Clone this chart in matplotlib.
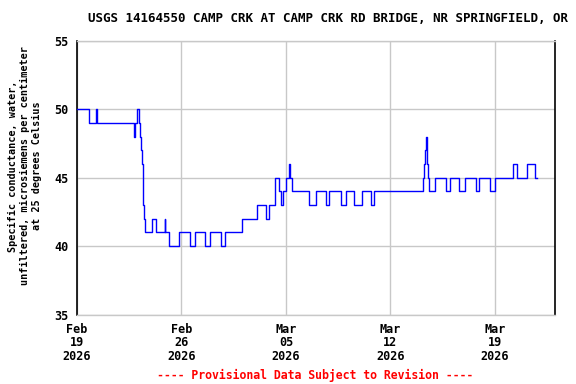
import matplotlib
matplotlib.use("Agg")
import matplotlib.pyplot as plt
import numpy as np
import pandas as pd

# Step data: offsets (days from 2026-02-19 00:00) where value changes, and the value
day_offsets = [0.00, 0.79, 1.26, 1.33, 3.80, 3.88, 4.00, 4.14, 4.22, 4.30, 4.38, 4.42,
               4.48, 4.55, 5.01, 5.32, 5.88, 5.92, 6.14, 6.84, 7.60, 7.88, 8.55, 8.89,
               9.65, 9.89, 11.03, 12.06, 12.66, 12.90, 13.24, 13.29, 13.51, 13.64, 13.78,
               14.02, 14.18, 14.27, 14.44, 15.58, 16.00, 16.67, 16.90, 17.66, 18.01,
               18.54, 19.13, 19.67, 19.88, 23.21, 23.28, 23.35, 23.39, 23.44, 23.48,
               23.55, 23.61, 23.96, 24.75, 25.02, 25.62, 25.97, 26.71, 26.96, 27.70,
               27.99, 29.24, 29.50, 30.17, 30.71, 30.84]
conductance = [50, 49, 50, 49, 48, 49, 50, 49, 48, 47, 46, 43,
               42, 41, 42, 41, 42, 41, 40, 41, 40, 41, 40, 41,
               40, 41, 42, 43, 42, 43, 44, 45, 44, 43, 44,
               45, 46, 45, 44, 43, 44, 43, 44, 43, 44,
               43, 44, 43, 44, 45, 46, 47, 48, 47, 46,
               45, 44, 45, 44, 45, 44, 45, 44, 45, 44,
               45, 46, 45, 46, 45, 45]

y_ticks = [35, 40, 45, 50, 55]
x_tick_dates = ["2026-02-19", "2026-02-26", "2026-03-05", "2026-03-12", "2026-03-19"]
x_tick_labels = ["Feb\n19\n2026", "Feb\n26\n2026", "Mar\n05\n2026", "Mar\n12\n2026", "Mar\n19\n2026"]

title = "USGS 14164550 CAMP CRK AT CAMP CRK RD BRIDGE, NR SPRINGFIELD, OR"
ylabel = "Specific conductance, water,\nunfiltered, microsiemens per centimeter\nat 25 degrees Celsius"
footer = "---- Provisional Data Subject to Revision ----"

start = pd.Timestamp("2026-02-19")
times = [start + pd.Timedelta(days=d) for d in day_offsets]

fig = plt.figure(figsize=(5.76, 3.84), dpi=100)
ax = fig.add_axes([77 / 576, 1 - 314.5 / 384, (554.5 - 77) / 576, (314.5 - 41) / 384])

ax.plot(times, conductance, drawstyle="steps-post", color="#0000ff", lw=1.0, zorder=3)

ax.set_xlim(start, pd.Timestamp("2026-03-23"))
ax.set_ylim(35, 55)

mono = "DejaVu Sans Mono"
ax.set_yticks(y_ticks)
ax.set_yticklabels([str(v) for v in y_ticks], fontfamily=mono, fontweight="bold", fontsize=8.5)
ax.set_xticks([pd.Timestamp(d) for d in x_tick_dates])
ax.set_xticklabels(x_tick_labels, fontfamily=mono, fontweight="bold", fontsize=8.5, linespacing=1.05)
ax.tick_params(axis="both", length=0, pad=6)
ax.grid(True, color="#c8c8c8", lw=1.0, zorder=0)

for s in ["left", "right"]:
    ax.spines[s].set_color("black")
    ax.spines[s].set_linewidth(1.2)
for s in ["top", "bottom"]:
    ax.spines[s].set_color("#c8c8c8")
    ax.spines[s].set_linewidth(1.0)

fig.text(328 / 576, 1 - 19 / 384, title, ha="center", va="center",
         fontfamily=mono, fontweight="bold", fontsize=9.0)
fig.text(25 / 576, 1 - 166 / 384, ylabel, ha="center", va="center", rotation=90,
         fontfamily=mono, fontweight="bold", fontsize=7.3, linespacing=1.25)
fig.text(315 / 576, 1 - 375 / 384, footer, ha="center", va="center",
         fontfamily=mono, fontweight="bold", fontsize=8.3, color="red")

fig.savefig("out.png", dpi=100)
